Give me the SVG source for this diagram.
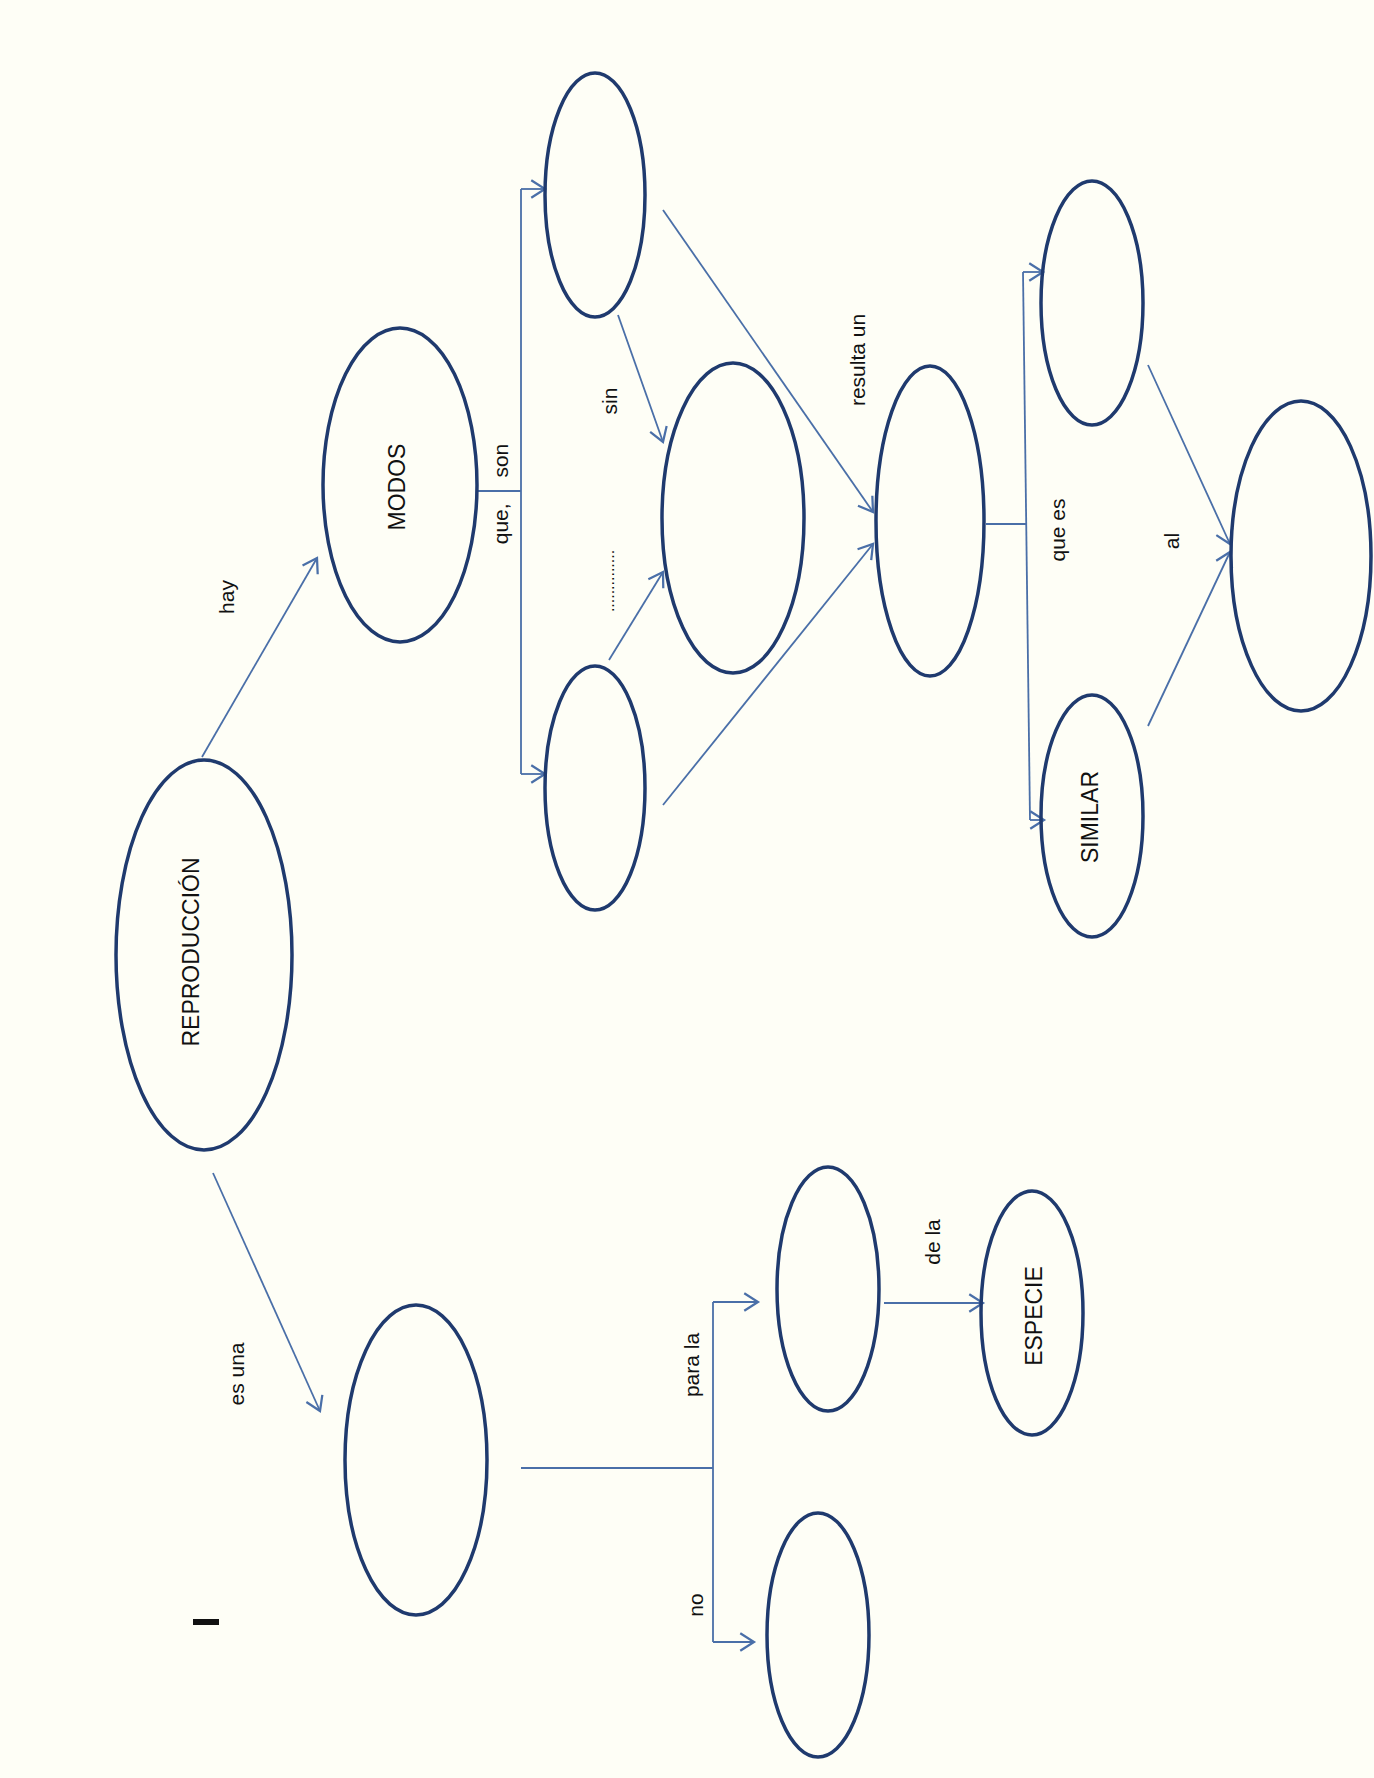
<svg xmlns="http://www.w3.org/2000/svg" width="1374" height="1778" viewBox="0 0 1374 1778">
<style>
.node{fill:none;stroke:#1F3A6E;stroke-width:3.5}
.con{fill:none;stroke:#4A6FA8;stroke-width:1.8}
.t{font-family:"Liberation Sans",Arial,sans-serif;font-size:23px;fill:#111;text-anchor:middle;dominant-baseline:central}
.l{font-family:"Liberation Sans",Arial,sans-serif;font-size:21px;fill:#111;text-anchor:middle;dominant-baseline:central}
</style>
<defs>
<marker id="ah" markerUnits="userSpaceOnUse" markerWidth="20" markerHeight="20" viewBox="-12 -8 14 16" refX="0" refY="0" orient="auto">
<path d="M-11,-7 L0,0 L-11,7" fill="none" stroke="#4A6FA8" stroke-width="1.8"/>
</marker>
</defs>
<rect x="0" y="0" width="1374" height="1778" fill="#FEFEF6"/>
<g id="connectors">
<path class="con" d="M202,757 L317,558" marker-end="url(#ah)"/>
<path class="con" d="M213,1173 L320,1411" marker-end="url(#ah)"/>
<path class="con" d="M477,491 H521"/>
<path class="con" d="M521,189 V774"/>
<path class="con" d="M521,189 H545" marker-end="url(#ah)"/>
<path class="con" d="M521,774 H545" marker-end="url(#ah)"/>
<path class="con" d="M618,315 L663,442" marker-end="url(#ah)"/>
<path class="con" d="M609,660 L663,572" marker-end="url(#ah)"/>
<path class="con" d="M663,210 L873,512" marker-end="url(#ah)"/>
<path class="con" d="M663,805 L873,544" marker-end="url(#ah)"/>
<path class="con" d="M986,524 H1026"/>
<path class="con" d="M1023,272 L1030,820"/>
<path class="con" d="M1023,272 H1043" marker-end="url(#ah)"/>
<path class="con" d="M1030,820 H1044" marker-end="url(#ah)"/>
<path class="con" d="M1148,365 L1230,544" marker-end="url(#ah)"/>
<path class="con" d="M1148,726 L1230,552" marker-end="url(#ah)"/>
<path class="con" d="M521,1468 H713"/>
<path class="con" d="M713,1302 V1642"/>
<path class="con" d="M713,1302 H758" marker-end="url(#ah)"/>
<path class="con" d="M713,1642 H754" marker-end="url(#ah)"/>
<path class="con" d="M884,1303 H983" marker-end="url(#ah)"/>
</g>
<g id="labels">
<text class="l" transform="translate(226,597) rotate(-90)">hay</text>
<text class="l" transform="translate(236,1374) rotate(-90)">es una</text>
<text class="l" transform="translate(500,494) rotate(-90)" style="word-spacing:20px">que, son</text>
<text class="l" transform="translate(609,401) rotate(-90)">sin</text>
<text class="l" transform="translate(608,581) rotate(-90)" style="font-size:16px">..............</text>
<text class="l" transform="translate(857,360) rotate(-90)">resulta un</text>
<text class="l" transform="translate(1057,530) rotate(-90)">que es</text>
<text class="l" transform="translate(1171,541) rotate(-90)">al</text>
<text class="l" transform="translate(691,1365) rotate(-90)">para la</text>
<text class="l" transform="translate(695,1605) rotate(-90)">no</text>
<text class="l" transform="translate(932,1242) rotate(-90)">de la</text>
</g>
<g id="n-reproduccion"><ellipse class="node" cx="204" cy="955" rx="88" ry="195"/><text class="t" transform="translate(191,952) rotate(-90)">REPRODUCCIÓN</text></g>
<g id="n-modos"><ellipse class="node" cx="400" cy="485" rx="77" ry="157"/><text class="t" transform="translate(397,487) rotate(-90)">MODOS</text></g>
<g id="n-a"><ellipse class="node" cx="595" cy="195" rx="50" ry="122"/></g>
<g id="n-b"><ellipse class="node" cx="595" cy="788" rx="50" ry="122"/></g>
<g id="n-c"><ellipse class="node" cx="733" cy="518" rx="71" ry="155"/></g>
<g id="n-d"><ellipse class="node" cx="930" cy="521" rx="54" ry="155"/></g>
<g id="n-e"><ellipse class="node" cx="1092" cy="303" rx="51" ry="122"/></g>
<g id="n-similar"><ellipse class="node" cx="1092" cy="816" rx="51" ry="121"/><text class="t" transform="translate(1090,817) rotate(-90)">SIMILAR</text></g>
<g id="n-f"><ellipse class="node" cx="1301" cy="556" rx="70" ry="155"/></g>
<g id="n-g"><ellipse class="node" cx="416" cy="1460" rx="71" ry="155"/></g>
<g id="n-h"><ellipse class="node" cx="828" cy="1289" rx="51" ry="122"/></g>
<g id="n-i"><ellipse class="node" cx="818" cy="1635" rx="51" ry="122"/></g>
<g id="n-especie"><ellipse class="node" cx="1032" cy="1313" rx="51" ry="122"/><text class="t" transform="translate(1034,1316) rotate(-90)">ESPECIE</text></g>
<rect x="193" y="1619" width="26" height="6" fill="#111"/>
</svg>
